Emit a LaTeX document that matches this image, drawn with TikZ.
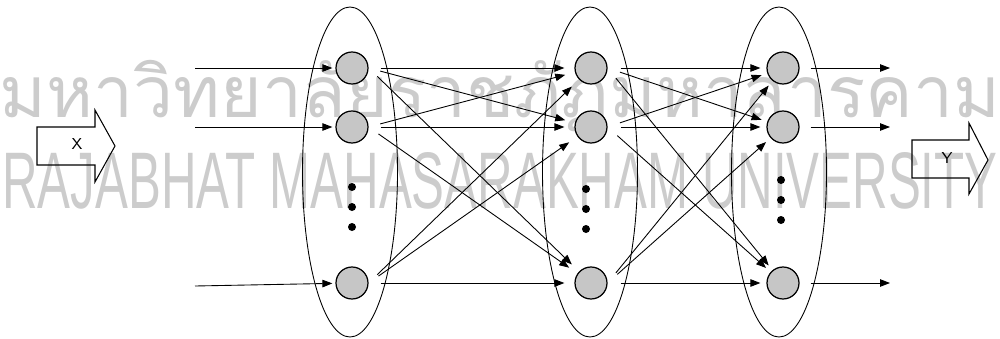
\documentclass[tikz,border=0pt]{standalone}
\usepackage{fontspec}
\newfontfamily\thaifont[Script=Thai]{Loma}
\newfontfamily\markfont{Liberation Sans}
\usetikzlibrary{arrows.meta,shapes.geometric}

\begin{document}
\begin{tikzpicture}[
    x=0.2mm, y=-0.2mm,
    font=\sffamily\small,
    layer/.style={draw, ellipse, line width=0.5pt, inner sep=0pt, minimum width=19mm, minimum height=66mm},
    neuron/.style={draw, circle, line width=0.7pt, fill=gray!45, inner sep=0pt, minimum size=6.4mm},
    dotnode/.style={circle, fill=black, inner sep=0pt, minimum size=1.6mm},
    conn/.style={-{Triangle[length=2mm,width=1.5mm]}, line width=0.5pt},
    wm/.style={text=gray!40, inner sep=0pt, anchor=base},
    blk/.style={draw, line width=0.6pt},
    lbl/.style={inner sep=0pt},
    ]
    \useasboundingbox (0,0) rectangle (1000,338);

    % watermark in the background
    \node[wm] (wmth) at (500,117) {\resizebox{200mm}{!}{\thaifont มหาวิทยาลัยราชภัฏมหาสารคาม}};
    \node[wm] (wmen) at (500,208) {\resizebox{199mm}{11.2mm}{\markfont RAJABHAT MAHASARAKHAM UNIVERSITY}};

    % layers
    \node[layer] (L1) at (350,172) {};
    \node[layer] (L2) at (590,172) {};
    \node[layer] (L3) at (779,172) {};

    % neurons and dots
    \foreach \n/\x in {a/352, b/591, c/783}{
        \node[neuron] (\n1) at (\x,68) {};
        \node[neuron] (\n2) at (\x,127) {};
        \node[neuron] (\n3) at (\x,283) {};
    }
    \foreach \n/\x/\y in {a/352/187, b/586/189, c/781/180}{
        \foreach \k in {0,1,2}
            \node[dotnode] (dot\n\k) at (\x,{\y+20*\k}) {};
    }

    % full connections between layers
    \foreach \i in {1,2,3}
        \foreach \j in {1,2,3}{
            \draw[conn, shorten <=2.4mm, shorten >=2mm] (a\i.east) -- (b\j);
            \draw[conn, shorten <=2.6mm, shorten >=1.2mm] (b\i.east) -- (c\j);
        }

    % inputs and outputs
    \foreach \i/\y in {1/68, 2/127, 3/286}
        \coordinate (in\i) at (195,\y);
    \foreach \i/\y in {1/68, 2/127, 3/283}
        \coordinate (out\i) at (890,\y);
    \foreach \i in {1,2,3}{
        \draw[conn, shorten >=0.6mm] (in\i) -- (a\i);
        \draw[conn, shorten <=2.2mm] (c\i.east) -- (out\i);
    }

    % block arrows X and Y
    \draw[blk] (37,127) -- (95,127) -- (95,110) -- (115,146) -- (95,182) -- (95,165) -- (37,165) -- cycle;
    \node[lbl] (xlbl) at (77,144) {X};
    \draw[blk] (912,140) -- (969,140) -- (969,123) -- (988,160) -- (969,194) -- (969,178) -- (912,178) -- cycle;
    \node[lbl] (ylbl) at (947,158) {Y};
\end{tikzpicture}
\end{document}
